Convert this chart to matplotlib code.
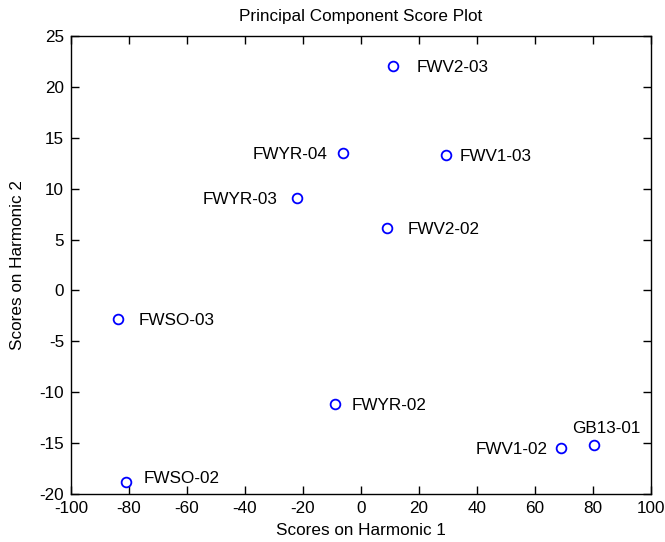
import matplotlib
matplotlib.use('Agg')
import matplotlib.pyplot as plt

# scores
names = ['FWV2-03', 'FWV1-03', 'FWYR-04', 'FWYR-03', 'FWV2-02',
         'FWSO-03', 'FWYR-02', 'FWV1-02', 'GB13-01', 'FWSO-02']
harm1 = [10.9, 29.3, -6.1, -22.2, 9.1, -83.9, -9.0, 69.0, 80.4, -81.1]
harm2 = [22.1, 13.3, 13.5, 9.05, 6.1, -2.8, -11.2, -15.5, -15.2, -18.8]

# label placement (pixel offsets from the point)
offsets = {
    'FWV2-03': (24, 0, 'left'),
    'FWV1-03': (14, 0, 'left'),
    'FWYR-04': (-16, 0, 'right'),
    'FWYR-03': (-19, 0, 'right'),
    'FWV2-02': (20, 0, 'left'),
    'FWSO-03': (21, 0, 'left'),
    'FWYR-02': (17, 0, 'left'),
    'FWV1-02': (-14, 0, 'right'),
    'GB13-01': (12, 18, 'center'),
    'FWSO-02': (18, 5, 'left'),
}

plt.rcParams['font.family'] = ['Liberation Sans', 'DejaVu Sans']
plt.rcParams['font.size'] = 12
plt.rcParams['axes.unicode_minus'] = False

fig = plt.figure(figsize=(6.65, 5.42), dpi=100)
ax = fig.add_axes([0.1068, 0.0886, 0.8722, 0.845])

ax.plot(harm1, harm2, 'o', linestyle='none', markersize=7, markerfacecolor='none',
        markeredgecolor='#0000ff', markeredgewidth=1.3)

for n, xv, yv in zip(names, harm1, harm2):
    dx, dy, ha = offsets[n]
    ax.annotate(n, (xv, yv), xytext=(dx, dy), textcoords='offset pixels',
                ha=ha, va='center_baseline', fontsize=12.3)

ax.set_xlim(-100, 100)
ax.set_ylim(-20, 25)
ax.set_xticks(range(-100, 101, 20))
ax.set_yticks(range(-20, 26, 5))
ax.tick_params(direction='in', length=5.5, width=1, top=True, right=True, pad=5,
               labelsize=12.3)
for s in ax.spines.values():
    s.set_linewidth(1)

ax.set_title('Principal Component Score Plot', fontsize=12.3, pad=11)
ax.set_xlabel('Scores on Harmonic 1', fontsize=12.3)
ax.set_ylabel('Scores on Harmonic 2', fontsize=12.3)
ax.xaxis.set_label_coords(0.5, -0.063)
ax.yaxis.set_label_coords(-0.08, 0.5)

fig.savefig('out.png', dpi=100)
